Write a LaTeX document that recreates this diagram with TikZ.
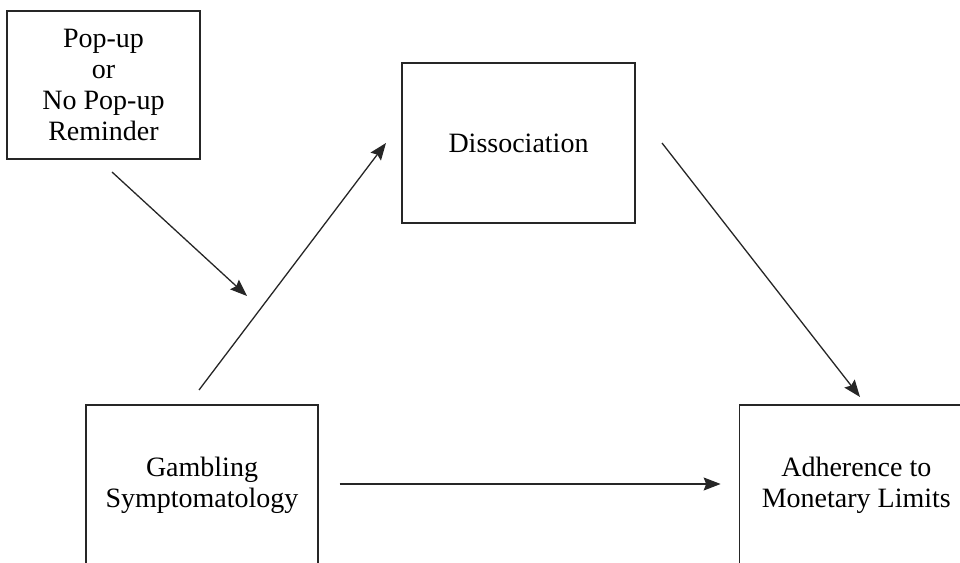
\documentclass[tikz,border=0pt]{standalone}
\usepackage{fontspec}
\setmainfont{Liberation Serif}
\usepackage{xcolor}
\usetikzlibrary{arrows.meta,positioning}

\begin{document}
\begin{tikzpicture}[x=1pt, y=1pt, line width=1.3pt, draw=black!85,
                link/.style={-{Stealth[length=17pt,width=13pt,inset=2.5pt]}},
                main box/.style={rectangle, draw, align=center,
                  font=\fontsize{28}{31}\selectfont, inner sep=0pt}]

      \clip (0,0) rectangle (960,562);

      \node[main box, minimum width=193, minimum height=148] (Reminder) at (103.5,477)
            {Pop-up\\or\\No Pop-up\\Reminder};
      \node[main box, minimum width=233, minimum height=160] (Dissoc) at (518.5,419)
            {Dissociation};
      \node[main box, minimum width=232, minimum height=160] (Gambling) at (202,77)
            {Gambling\\Symptomatology};
      \node[main box, minimum width=234, minimum height=160] (Adherence) [right=420 of Gambling]
            {Adherence to\\Monetary Limits};

      \coordinate (modStart) at (112,390);
      \coordinate (modEnd) at (247,266);
      \coordinate (pathStart) at (199,172);
      \coordinate (pathEnd) at (386,419);
      \coordinate (medStart) at (662,419);
      \coordinate (medEnd) at (860,165);

      \draw[link] (modStart) -- (modEnd);
      \draw[link] (pathStart) -- (pathEnd);
      \draw[link] (medStart) -- (medEnd);
      \draw[link, shorten <=21pt, shorten >=18pt] ([yshift=1]Gambling.east) -- ([yshift=1]Adherence.west);
  \end{tikzpicture}
\end{document}
